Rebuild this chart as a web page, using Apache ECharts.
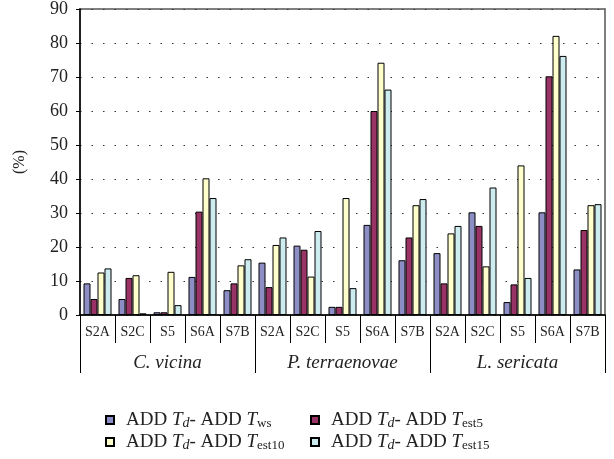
<!DOCTYPE html>
<html>
<head>
<meta charset="utf-8">
<script src="https://cdn.jsdelivr.net/npm/echarts@6/dist/echarts.min.js"></script>
<style>html,body{margin:0;padding:0;background:#fff}#c{width:614px;height:459px}</style>
</head>
<body>
<div id="c"></div>
<script>
const categories = ['S2A','S2C','S5','S6A','S7B','S2A','S2C','S5','S6A','S7B','S2A','S2C','S5','S6A','S7B'];
const groups = ['C. vicina','P. terraenovae','L. sericata'];
const yTicks = [0,10,20,30,40,50,60,70,80,90];
const seriesNames = ['ws','est5','est10','est15'];
const valuesWs    = [9.3,4.7,0.8,11.2,7.3, 15.4,20.4,2.4,26.5,16.1, 18.2,30.2,3.8,30.2,13.4];
const valuesEst5  = [4.7,10.9,0.8,30.4,9.3, 8.2,19.2,2.4,60.0,22.8, 9.3,26.2,9.0,70.2,25.0];
const valuesEst10 = [12.5,11.7,12.7,40.2,14.6, 20.6,11.3,34.4,74.2,32.3, 24.0,14.3,44.0,82.1,32.3];
const valuesEst15 = [13.7,0.5,2.9,34.4,16.4, 22.8,24.7,7.9,66.3,34.1, 26.2,37.5,10.9,76.2,32.6];
const colors = ['#8E8EC6','#993366','#FFFFCC','#CCECF0'];

const FONT = '"Liberation Serif", "DejaVu Serif", serif';
const chart = echarts.init(document.getElementById('c'), null, {renderer:'canvas'});
const allValues = [valuesWs, valuesEst5, valuesEst10, valuesEst15];

function legendFmt(name){
  return '{n|ADD }{i|T}{d|d}{n|- ADD }{i|T}{s|' + name + '}';
}
const legendRich = {
  n: {fontFamily: FONT, fontSize: 19, color: '#222', lineHeight: 22, verticalAlign: 'bottom', height: 22},
  i: {fontFamily: FONT, fontStyle: 'italic', fontSize: 19, color: '#222', lineHeight: 22, verticalAlign: 'bottom', height: 22},
  d: {fontFamily: FONT, fontStyle: 'italic', fontSize: 14, color: '#222', lineHeight: 16, verticalAlign: 'bottom', height: 16},
  s: {fontFamily: FONT, fontSize: 13, color: '#222', lineHeight: 15, verticalAlign: 'bottom', height: 15}
};
function mkLegend(name, left, top){
  return {
    data: [name], left: left, top: top, icon: 'rect', itemWidth: 8, itemHeight: 8, itemGap: 0,
    formatter: legendFmt, selectedMode: false,
    textStyle: {fontFamily: FONT, fontSize: 19, color: '#222', lineHeight: 22, rich: legendRich, padding: [0,0,0,7]}
  };
}

chart.setOption({
  animation: false,
  backgroundColor: '#fff',
  grid: {left: 80, right: 9, top: 9, bottom: 144, show: true, borderColor: '#555', borderWidth: 1.5, containLabel: false},
  legend: [
    mkLegend('ws', 100, 404),
    mkLegend('est5', 305, 404),
    mkLegend('est10', 100, 426),
    mkLegend('est15', 305, 426)
  ],
  xAxis: [
    {type: 'category', data: categories, position: 'bottom',
     axisLine: {show: true, lineStyle: {color: '#000', width: 1.5}},
     axisTick: {show: true, interval: 0, length: 28, lineStyle: {color: '#000', width: 1}},
     axisLabel: {interval: 0, margin: 10, fontFamily: FONT, fontSize: 14, color: '#222'},
     splitLine: {show: false}},
    {type: 'category', data: groups, position: 'bottom',
     axisLine: {show: false},
     axisTick: {show: true, interval: 0, length: 58, lineStyle: {color: '#000', width: 1}},
     axisLabel: {interval: 0, margin: 38, fontFamily: FONT, fontSize: 19, fontStyle: 'italic', color: '#222'},
     splitLine: {show: false}}
  ],
  yAxis: {
    type: 'value', min: yTicks[0], max: yTicks[yTicks.length-1], interval: 10,
    name: '(%)', nameLocation: 'middle', nameGap: 52, nameRotate: 90,
    nameTextStyle: {fontFamily: FONT, fontSize: 16, color: '#222'},
    axisLine: {show: true, lineStyle: {color: '#000', width: 1.5}},
    axisTick: {show: true, length: 4, lineStyle: {color: '#000'}},
    axisLabel: {fontFamily: FONT, fontSize: 18, color: '#222', margin: 12},
    splitLine: {show: true, lineStyle: {color: '#333', type: [1.5, 10], width: 1.2}}
  },
  series: seriesNames.map((n, k) => ({
    name: n, type: 'bar', xAxisIndex: 0, data: allValues[k],
    barWidth: 7, barGap: '0%',
    itemStyle: {color: colors[k], borderColor: '#000', borderWidth: 1}
  }))
});
</script>
</body>
</html>
